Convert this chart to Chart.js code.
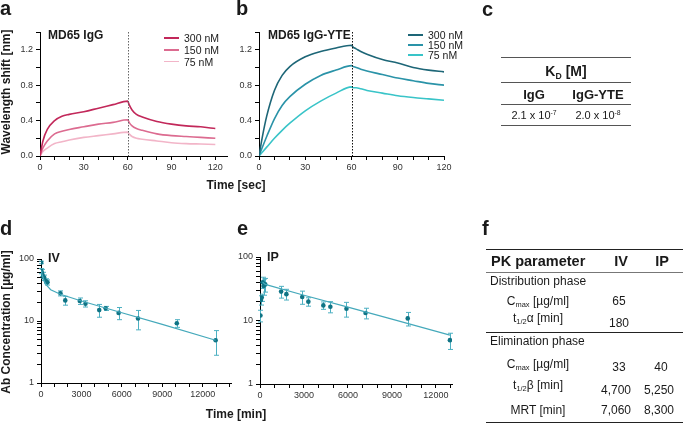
<!DOCTYPE html>
<html>
<head>
<meta charset="utf-8">
<script src="https://cdn.jsdelivr.net/npm/chart.js@4.4.0/dist/chart.umd.min.js"></script>
<style>
  body { margin: 0; background: #fff; }
  #fig { position: relative; width: 685px; height: 424px; overflow: hidden;
         font-family: "Liberation Sans", Arial, sans-serif; color: #1a1a1a; }
  #fig canvas { position: absolute; left: 0; top: 0; }
  .t { position: absolute; white-space: nowrap; line-height: 1; }
  .b { font-weight: bold; }
  .rule { position: absolute; background: #555; }
  sub { font-size: 0.62em; vertical-align: -0.3em; line-height: 0; }
  sup { font-size: 0.62em; vertical-align: 0.5em; line-height: 0; }
</style>
</head>
<body>
<div id="fig"></div>
<script>
// binding kinetics (panels a, b)
const kinTime = [0, 2, 5, 10, 15, 20, 30, 40, 50, 60, 61, 63, 66, 70, 80, 90, 100, 110, 120];
const igg300 = [0, 0.17, 0.30, 0.40, 0.45, 0.47, 0.50, 0.54, 0.58, 0.62, 0.58, 0.52, 0.47, 0.44, 0.39, 0.36, 0.34, 0.33, 0.31];
const igg150 = [0, 0.09, 0.17, 0.25, 0.28, 0.30, 0.33, 0.36, 0.38, 0.41, 0.38, 0.34, 0.31, 0.29, 0.25, 0.23, 0.22, 0.21, 0.20];
const igg75  = [0, 0.05, 0.09, 0.14, 0.16, 0.18, 0.21, 0.23, 0.25, 0.27, 0.25, 0.22, 0.20, 0.19, 0.17, 0.15, 0.14, 0.135, 0.13];
const yte300 = [0, 0.20, 0.45, 0.74, 0.91, 1.01, 1.12, 1.18, 1.22, 1.25, 1.23, 1.21, 1.18, 1.15, 1.09, 1.05, 1.00, 0.97, 0.95];
const yte150 = [0, 0.09, 0.22, 0.42, 0.57, 0.67, 0.81, 0.91, 0.97, 1.02, 1.01, 1.00, 0.98, 0.96, 0.92, 0.88, 0.85, 0.82, 0.80];
const yte75  = [0, 0.04, 0.10, 0.20, 0.29, 0.37, 0.51, 0.62, 0.71, 0.78, 0.77, 0.77, 0.76, 0.74, 0.71, 0.68, 0.66, 0.645, 0.63];
const concLabels = ['300 nM', '150 nM', '75 nM'];

// pharmacokinetics (panels d, e)
const ivTime = [5, 30, 60, 120, 240, 360, 480, 1440, 1800, 2880, 3300, 4320, 4800, 5760, 7200, 10080, 12960];
const ivConc = [88, 64, 60, 55, 50, 44, 42, 28, 21.5, 21, 19, 15, 16, 13.5, 11, 9.2, 4.9];
const ivSd   = [4, 6, 8, 6, 5, 4, 4, 2.6, 3.5, 2.5, 2.2, 3.5, 1.2, 3, 3.8, 1.3, 2.1];
const ivFitTime = [0, 60, 120, 240, 360, 720, 1440, 3000, 6000, 9000, 12960];
const ivFit     = [65, 58, 53, 44, 39, 32, 27, 21, 13.6, 8.8, 4.9];

const ipTime = [30, 60, 120, 180, 240, 360, 1440, 1800, 2880, 3300, 4320, 4800, 5900, 7200, 10080, 12960];
const ipConc = [12, 21, 23, 40, 35, 37, 28.5, 26, 23.5, 19.8, 17.3, 16.5, 15.3, 13.1, 10.8, 4.9];
const ipSd   = [2.5, 3.5, 3, 8, 10, 9, 6, 5, 5.5, 3, 2.3, 3.3, 4, 2.5, 2.6, 1.4];
const ipFitTime = [180, 360, 3000, 6000, 9000, 12960];
const ipFit     = [40, 37, 25, 16.2, 10.5, 5.9];

const logTicks = [1, 2, 3, 4, 5, 6, 7, 8, 9, 10, 20, 30, 40, 50, 60, 70, 80, 90, 100];
const minTicks = [0, 1000, 2000, 3000, 4000, 5000, 6000, 7000, 8000, 9000, 10000, 11000, 12000, 13000, 14000];

const fig = document.getElementById('fig');
const tickFont = { family: '"Liberation Sans", Arial, sans-serif', size: 9 };
const tickColor = '#333';

// dotted line at end of association
const vline = {
  id: 'vline',
  afterDatasetsDraw(chart, args, opts) {
    if (opts.x === undefined) return;
    const ctx = chart.ctx, a = chart.chartArea;
    const x = Math.round(chart.scales.x.getPixelForValue(opts.x)) + 0.5;
    ctx.save();
    ctx.strokeStyle = opts.color;
    ctx.lineWidth = 1;
    ctx.setLineDash([1.5, 1.5]);
    ctx.beginPath();
    ctx.moveTo(x, a.top);
    ctx.lineTo(x, a.bottom);
    ctx.stroke();
    ctx.restore();
  }
};

// mean +/- SD bars
const errorBars = {
  id: 'errorBars',
  beforeDatasetsDraw(chart) {
    const ctx = chart.ctx, xs = chart.scales.x, ys = chart.scales.y;
    chart.data.datasets.forEach(ds => {
      if (!ds.errors) return;
      ctx.save();
      ctx.strokeStyle = ds.errorColor;
      ctx.lineWidth = 1;
      ds.data.forEach((p, i) => {
        const e = ds.errors[i];
        const x = Math.round(xs.getPixelForValue(p.x)) + 0.5;
        const y1 = ys.getPixelForValue(p.y + e);
        const y2 = ys.getPixelForValue(Math.max(p.y - e, 1));
        ctx.beginPath();
        ctx.moveTo(x, y1); ctx.lineTo(x, y2);
        ctx.moveTo(x - 2.5, y1); ctx.lineTo(x + 2.5, y1);
        ctx.moveTo(x - 2.5, y2); ctx.lineTo(x + 2.5, y2);
        ctx.stroke();
      });
      ctx.restore();
    });
  }
};

function fixSize(size) {
  return function(s) {
    if (s.isHorizontal()) s.height = size; else s.width = size;
    s.paddingLeft = s.paddingRight = s.paddingTop = s.paddingBottom = 0;
  };
}

function axisStyle() {
  return {
    border: { color: '#000', width: 1 },
    grid: { drawOnChartArea: false, drawTicks: true, tickLength: 4, color: '#000' },
  };
}

function makeChart(area, datasets, xOpts, yOpts, vl) {
  const c = document.createElement('canvas');
  c.width = 685; c.height = 424;
  fig.appendChild(c);
  return new Chart(c, {
    type: 'scatter',
    data: { datasets: datasets },
    options: {
      responsive: false,
      animation: false,
      devicePixelRatio: 1,
      layout: { padding: { left: area.l - 40, top: area.t, right: 685 - area.r, bottom: 424 - area.b - 30 } },
      plugins: { legend: { display: false }, tooltip: { enabled: false }, vline: vl || {} },
      scales: {
        x: Object.assign(axisStyle(), { type: 'linear', afterFit: fixSize(30) }, xOpts),
        y: Object.assign(axisStyle(), { afterFit: fixSize(40) }, yOpts)
      }
    },
    plugins: [vline, errorBars]
  });
}

function kinSet(vals, color) {
  return {
    data: kinTime.map((t, i) => ({ x: t, y: vals[i] })),
    showLine: true, borderColor: color, borderWidth: 1.6,
    pointRadius: 0, cubicInterpolationMode: 'monotone'
  };
}

function kinX(max) {
  return {
    min: 0, max: max,
    ticks: { stepSize: 10, maxTicksLimit: 30, includeBounds: false, autoSkip: false, maxRotation: 0, padding: 2,
             font: tickFont, color: tickColor, callback: v => (v % 30 === 0 ? v : '') }
  };
}
const kinY = {
  type: 'linear', min: 0, max: 1.4,
  ticks: { stepSize: 0.2, maxTicksLimit: 30, autoSkip: false, padding: 3, font: tickFont, color: tickColor,
           callback: v => (Math.round(v * 10) % 4 === 0 ? v.toFixed(1) : '') }
};

const iggColors = ['#c2285a', '#dc6b90', '#f2b5c8'];
const yteColors = ['#1d6677', '#2a93a8', '#39c4c8'];

makeChart({ l: 40, r: 227, t: 32, b: 156 },
  [kinSet(igg300, iggColors[0]), kinSet(igg150, iggColors[1]), kinSet(igg75, iggColors[2])],
  kinX(128), kinY, { x: 60, color: '#666' });

makeChart({ l: 259, r: 444, t: 32, b: 156 },
  [kinSet(yte300, yteColors[0]), kinSet(yte150, yteColors[1]), kinSet(yte75, yteColors[2])],
  kinX(120), kinY, { x: 60, color: '#111' });

function pkSets(time, conc, sd, fitTime, fit) {
  return [
    { data: fitTime.map((t, i) => ({ x: t, y: fit[i] })), showLine: true,
      borderColor: '#45a9bb', borderWidth: 1.2, pointRadius: 0 },
    { data: time.map((t, i) => ({ x: t, y: conc[i] })), errors: sd, errorColor: '#4db0c2',
      pointRadius: 2.3, backgroundColor: '#0f7485', borderWidth: 0 }
  ];
}
function pkX(max) {
  return {
    min: 0, max: max,
    afterBuildTicks: s => { s.ticks = minTicks.filter(v => v <= max).map(v => ({ value: v })); },
    ticks: { autoSkip: false, maxRotation: 0, padding: 2,
             font: tickFont, color: tickColor, callback: v => (v % 3000 === 0 ? String(v) : '') }
  };
}
const pkY = {
  type: 'logarithmic', min: 1, max: 100,
  afterBuildTicks: s => { s.ticks = logTicks.map(v => ({ value: v })); },
  ticks: { autoSkip: false, padding: 3, font: tickFont, color: tickColor,
           callback: v => ([1, 10, 100].includes(v) ? String(v) : '') }
};

makeChart({ l: 41, r: 231, t: 259, b: 383 },
  pkSets(ivTime, ivConc, ivSd, ivFitTime, ivFit), pkX(14100), pkY);

makeChart({ l: 260, r: 452, t: 257, b: 384 },
  pkSets(ipTime, ipConc, ipSd, ipFitTime, ipFit), pkX(13100), pkY);

// text helpers
function text(html, x, y, size, opts) {
  opts = opts || {};
  const d = document.createElement('div');
  d.className = 't' + (opts.bold ? ' b' : '');
  d.innerHTML = html;
  d.style.fontSize = size + 'px';
  d.style.left = x + 'px';
  d.style.top = y + 'px';
  const ax = opts.align === 'left' ? '0' : (opts.align === 'right' ? '-100%' : '-50%');
  d.style.transform = 'translate(' + ax + ',-50%)' + (opts.rot ? ' rotate(-90deg)' : '');
  if (opts.rot) d.style.transformOrigin = '50% 50%';
  if (opts.color) d.style.color = opts.color;
  fig.appendChild(d);
  return d;
}
function rule(x1, x2, y, h, color) {
  const d = document.createElement('div');
  d.className = 'rule';
  d.style.left = x1 + 'px';
  d.style.width = (x2 - x1) + 'px';
  d.style.top = (y - h / 2) + 'px';
  d.style.height = h + 'px';
  if (color) d.style.background = color;
  fig.appendChild(d);
}
function legend(x, ys, colors) {
  ys.forEach((y, i) => {
    rule(x, x + 15, y, 1.8, colors[i]);
    text(concLabels[i], x + 20, y, 10.5, { align: 'left' });
  });
}

// panel letters
text('a', 0, 8, 20, { bold: true, align: 'left' });
text('b', 236, 8, 20, { bold: true, align: 'left' });
text('c', 482, 9, 20, { bold: true, align: 'left' });
text('d', 0, 228, 20, { bold: true, align: 'left' });
text('e', 237, 228, 20, { bold: true, align: 'left' });
text('f', 482, 228, 20, { bold: true, align: 'left' });

// panel a/b titles, legends, axis titles
text('MD65 IgG', 48, 35, 12, { bold: true, align: 'left' });
text('MD65 IgG-YTE', 268, 35, 12, { bold: true, align: 'left' });
legend(164, [38, 50, 61.5], iggColors);
legend(408, [35, 45, 55], yteColors);
text('Wavelength shift [nm]', 6, 92, 12, { bold: true, rot: true });
text('Time [sec]', 236, 185, 12, { bold: true });

text('IV', 48, 258, 12.5, { bold: true, align: 'left' });
text('IP', 267, 257, 12.5, { bold: true, align: 'left' });
text('Ab Concentration [µg/ml]', 6, 322, 12, { bold: true, rot: true });
text('Time [min]', 236, 414, 12, { bold: true });

// table c
rule(501, 631, 57.5, 1.5);
rule(501, 631, 82.5, 1.5);
rule(501, 631, 104.5, 1.5);
rule(501, 631, 125.5, 1.5);
text('K<sub>D</sub> [M]', 566, 71, 14, { bold: true });
text('IgG', 534, 94, 13, { bold: true });
text('IgG-YTE', 598, 94, 13, { bold: true });
text('2.1 x 10<sup>-7</sup>', 534, 115, 11);
text('2.0 x 10<sup>-8</sup>', 598, 115, 11);

// table f
rule(486, 683, 249.5, 1.6, '#222');
rule(486, 683, 272.5, 1, '#777');
rule(486, 683, 332.5, 1.6, '#222');
rule(486, 683, 422.3, 1.6, '#222');
text('PK parameter', 491, 261, 14.5, { bold: true, align: 'left' });
text('IV', 621, 261, 14.5, { bold: true });
text('IP', 662, 261, 14.5, { bold: true });
text('Distribution phase', 490, 281, 12, { align: 'left' });
text('C<sub>max</sub> [µg/ml]', 538, 301, 12);
text('65', 619, 301, 12);
text('t<sub>1/2</sub>α [min]', 538, 317.5, 12);
text('180', 619, 323, 12);
text('Elimination phase', 490, 341, 12, { align: 'left' });
text('C<sub>max</sub> [µg/ml]', 538, 364, 12);
text('33', 619, 367, 12);
text('40', 661, 367, 12);
text('t<sub>1/2</sub>β [min]', 538, 385, 12);
text('4,700', 616, 390, 12);
text('5,250', 659, 390, 12);
text('MRT [min]', 538, 410, 12);
text('7,060', 616, 410, 12);
text('8,300', 659, 410, 12);
</script>
</body>
</html>
